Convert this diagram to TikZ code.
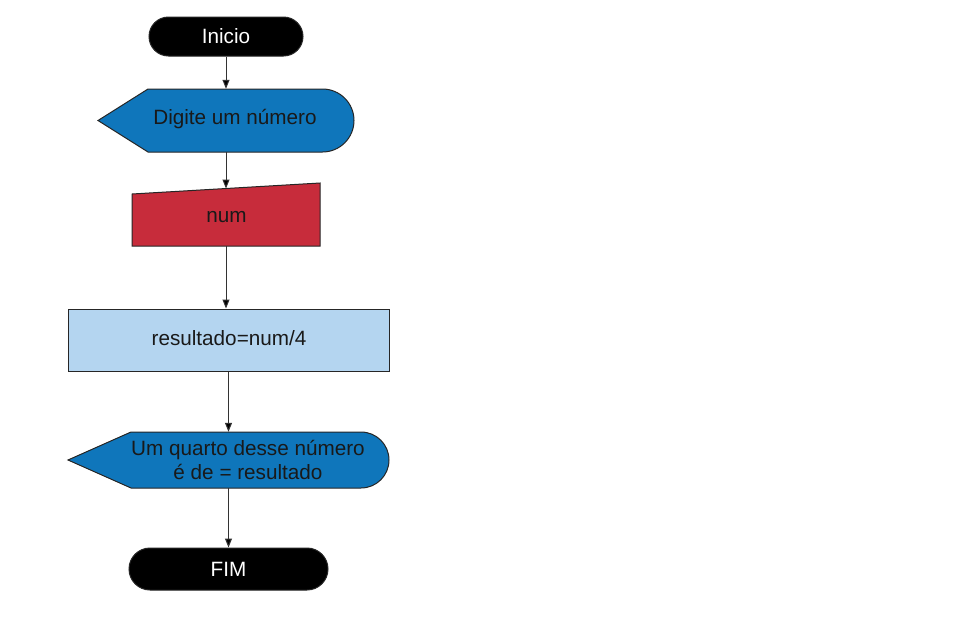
\documentclass[tikz,border=0pt]{standalone}
\usepackage{fontspec}
\setmainfont{Liberation Sans}
\usetikzlibrary{arrows.meta}
\definecolor{dispblue}{HTML}{0F76BB}
\definecolor{inred}{HTML}{C72C3B}
\definecolor{procblue}{HTML}{B4D5F0}
\begin{document}
\begin{tikzpicture}[x=1pt,y=-1pt,
  font=\fontsize{20.7}{24}\selectfont,
  outline/.style={draw=black!85, line width=1pt},
  term/.style={outline, fill=black, text=white, inner sep=0pt},
  hit/.style={inner sep=0pt, draw=none},
  txt/.style={inner sep=0pt, align=center, text=black!90},
  arr/.style={draw=black!80, line width=1pt, -{Triangle[length=9pt,width=7pt,fill=black]}}]
\useasboundingbox (0,0) rectangle (960,632);
% start
\node[term, minimum width=154pt, minimum height=39pt, rounded corners=19.5pt] (start) at (226,36.5) {Inicio};
% display 1
\draw[outline, fill=dispblue] (98,120.5) -- (148,89) -- (322.5,89) arc[start angle=-90, end angle=90, radius=31.5] -- (148,152) -- cycle;
\node[hit, minimum width=256pt, minimum height=63pt] (d1) at (226,120.5) {};
\node[txt] (d1t) at (235,119.5) {Digite um número};
% manual input
\draw[outline, fill=inred] (132,194) -- (320,183) -- (320,246) -- (132,246) -- cycle;
\node[hit, minimum width=188pt, minimum height=63pt] (m) at (226,214.5) {};
\coordinate (mtop) at (226,188.5);
\node[txt] (mt) at (226.5,217) {num};
% process
\node[outline, fill=procblue, minimum width=321pt, minimum height=62pt, inner sep=0pt] (p) at (228.5,340) {};
\node[txt] (pt) at (229,338.5) {resultado=num/4};
% display 2
\draw[outline, fill=dispblue] (68,460) -- (131,432) -- (361,432) arc[start angle=-90, end angle=90, radius=28] -- (131,488) -- cycle;
\node[hit, minimum width=321pt, minimum height=56pt] (d2) at (228.5,460) {};
\node[txt] (d2t) at (248,459.5) {Um quarto desse número\\é de = resultado};
% end
\node[term, minimum width=199pt, minimum height=42pt, rounded corners=21pt] (fim) at (228.5,569) {FIM};
% connectors
\draw[arr] (start) -- (d1);
\draw[arr] (d1.south) -- (mtop);
\draw[arr] (m.south) -- (m.south |- p.north);
\draw[arr] (p) -- (d2);
\draw[arr] (d2) -- (fim);
\end{tikzpicture}
\end{document}
